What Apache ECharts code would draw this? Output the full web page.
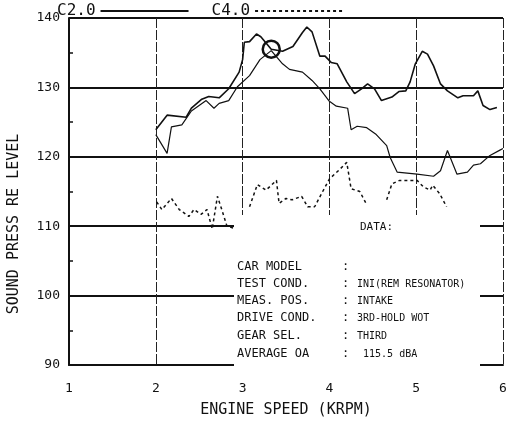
<!DOCTYPE html>
<html>
<head>
<meta charset="utf-8">
<script src="https://cdn.jsdelivr.net/npm/echarts@6/dist/echarts.min.js"></script>
<style>
html,body{margin:0;padding:0;background:#fff;}
#chart{width:510px;height:423px;}
</style>
</head>
<body>
<div id="chart"></div>
<script>
// ---- data ----
var xTickLabels = ['1', '2', '3', '4', '5', '6'];
var yTickLabels = ['90', '100', '110', '120', '130', '140'];

// Upper solid curve (C2.0)
var speedA = [2.00,2.13,2.35,2.41,2.53,2.61,2.73,2.84,2.96,3.00,3.02,3.08,3.16,3.21,3.33,3.46,3.58,3.69,3.74,3.80,3.89,3.95,4.02,4.09,4.20,4.29,4.37,4.44,4.52,4.60,4.72,4.80,4.88,4.93,4.99,5.07,5.13,5.20,5.28,5.36,5.48,5.54,5.66,5.71,5.77,5.85,5.93];
var levelA = [123.9,126.0,125.7,127.0,128.3,128.7,128.5,129.8,132.2,134.0,136.5,136.6,137.7,137.3,135.5,135.2,135.9,137.9,138.7,138.0,134.5,134.5,133.6,133.4,130.8,129.1,129.8,130.5,129.8,128.1,128.6,129.4,129.5,130.8,133.4,135.2,134.8,133.1,130.5,129.5,128.5,128.8,128.8,129.5,127.4,126.8,127.1];

// Second solid curve
var speedB = [2.00,2.13,2.18,2.30,2.41,2.58,2.67,2.73,2.84,2.94,3.08,3.20,3.33,3.46,3.54,3.69,3.80,3.89,4.00,4.08,4.21,4.25,4.32,4.43,4.54,4.66,4.70,4.78,5.01,5.20,5.28,5.36,5.47,5.59,5.66,5.74,5.85,5.97,6.00];
var levelB = [123.2,120.5,124.3,124.6,126.6,128.1,127.0,127.7,128.1,130.1,131.7,134.0,135.3,133.4,132.6,132.2,131.0,129.8,128.0,127.3,127.0,123.9,124.4,124.2,123.2,121.6,119.9,117.8,117.5,117.2,118.0,120.9,117.5,117.8,118.8,119.0,120.2,121.0,121.2];

// Lower dotted curve (C4.0), null = gap
var speedC = [2.01,2.07,2.18,2.27,2.38,2.44,2.52,2.59,2.65,2.71,2.76,2.82,2.90,2.99,3.08,3.17,3.27,3.39,3.42,3.50,3.57,3.68,3.75,3.83,3.91,4.00,4.12,4.20,4.25,4.35,4.43,4.55,4.66,4.72,4.81,5.01,5.08,5.16,5.19,5.27,5.35];
var levelC = [113.5,112.4,114.0,112.4,111.4,112.4,111.7,112.4,109.6,114.3,112.4,110.0,109.7,null,112.8,116.0,115.2,116.6,113.3,114.0,113.8,114.3,112.8,112.8,114.7,116.8,118.2,119.2,115.4,115.0,113.1,null,113.8,116.1,116.6,116.6,115.7,115.2,115.9,114.7,112.8];

// circled annotation point
var circleMark = [3.33, 135.5];

// info block texts
var infoLabels = ['CAR MODEL', 'TEST COND.', 'MEAS. POS.', 'DRIVE COND.', 'GEAR SEL.', 'AVERAGE OA'];
var infoValues = ['', 'INI(REM RESONATOR)', 'INTAKE', '3RD-HOLD WOT', 'THIRD', ' 115.5 dBA'];

function zip(xs, ys) {
  return xs.map(function (x, i) { return [x, ys[i] === null ? '-' : ys[i]]; });
}

var FONT = '"DejaVu Sans Mono", monospace';
var INK = '#111';

var graphics = [
  { type: 'rect', z: 100, shape: { x: 234, y: 215, width: 246, height: 154 }, style: { fill: '#fff' } },
  { type: 'text', z: 101, x: 360, y: 227, style: { text: 'DATA:', font: '11px ' + FONT, fill: INK, verticalAlign: 'middle' } },
  { type: 'text', z: 101, x: 14, y: 224, rotation: Math.PI / 2,
    style: { text: 'SOUND PRESS RE LEVEL', font: '15px ' + FONT, fill: INK, align: 'center', verticalAlign: 'middle' } }
];
var rowY = [267, 284, 301, 318, 336, 354];
infoLabels.forEach(function (t, i) {
  graphics.push({ type: 'text', z: 101, x: 237, y: rowY[i], style: { text: t, font: '12px ' + FONT, fill: INK, verticalAlign: 'middle' } });
  graphics.push({ type: 'text', z: 101, x: 342, y: rowY[i], style: { text: ':', font: '12px ' + FONT, fill: INK, verticalAlign: 'middle' } });
  graphics.push({ type: 'text', z: 101, x: 357, y: rowY[i], style: { text: infoValues[i], font: '10px ' + FONT, fill: INK, verticalAlign: 'middle' } });
});

var chart = echarts.init(document.getElementById('chart'), null, { renderer: 'canvas' });
chart.setOption({
  backgroundColor: '#fff',
  animation: false,
  textStyle: { fontFamily: FONT, color: INK },
  legend: {
    data: ['C2.0', 'C4.0'],
    left: 55, top: 1, padding: 2,
    align: 'right',
    itemWidth: 88, itemHeight: 6, itemGap: 22,
    itemStyle: { opacity: 0 },
    textStyle: { fontFamily: FONT, fontSize: 16, lineHeight: 15, color: INK }
  },
  grid: { left: 69, right: 7, top: 18, bottom: 52 },
  xAxis: {
    type: 'value', min: 1, max: 6, interval: 1,
    name: 'ENGINE SPEED (KRPM)', nameLocation: 'middle', nameGap: 38,
    nameTextStyle: { fontFamily: FONT, fontSize: 15, color: INK },
    axisLine: { show: true, lineStyle: { color: INK, width: 2 } },
    axisTick: { show: false },
    axisLabel: { margin: 17, fontFamily: FONT, fontSize: 13, color: INK,
      formatter: function (v) { return xTickLabels[Math.round(v) - 1]; } },
    splitLine: { show: true, lineStyle: { color: '#222', width: 1, type: [10, 2] } }
  },
  yAxis: {
    type: 'value', min: 90, max: 140, interval: 10,
    axisLine: { show: true, lineStyle: { color: INK, width: 2 } },
    axisTick: { show: true, inside: true, length: 0 },
    minorTick: { show: true, splitNumber: 2, length: 4, lineStyle: { color: INK, width: 1.5 } },
    axisLabel: { margin: 9, fontFamily: FONT, fontSize: 13, color: INK,
      formatter: function (v) { return yTickLabels[Math.round((v - 90) / 10)]; } },
    splitLine: { show: true, lineStyle: { color: INK, width: 2 } }
  },
  graphic: graphics,
  series: [
    {
      name: 'C2.0', type: 'line', data: zip(speedA, levelA), showSymbol: false, symbol: 'none',
      lineStyle: { color: INK, width: 1.6 }, itemStyle: { color: INK },
      markPoint: {
        symbol: 'circle', symbolSize: 17,
        itemStyle: { color: 'rgba(0,0,0,0)', borderColor: INK, borderWidth: 2.5 },
        label: { show: false },
        data: [{ coord: circleMark }]
      }
    },
    {
      name: 'B', type: 'line', data: zip(speedB, levelB), showSymbol: false, symbol: 'none',
      lineStyle: { color: INK, width: 1.2 }, itemStyle: { color: INK }
    },
    {
      name: 'C4.0', type: 'line', data: zip(speedC, levelC), showSymbol: false, symbol: 'none',
      connectNulls: false,
      lineStyle: { color: INK, width: 1.5, type: [3, 3] }, itemStyle: { color: INK }
    }
  ]
});
</script>
</body>
</html>
